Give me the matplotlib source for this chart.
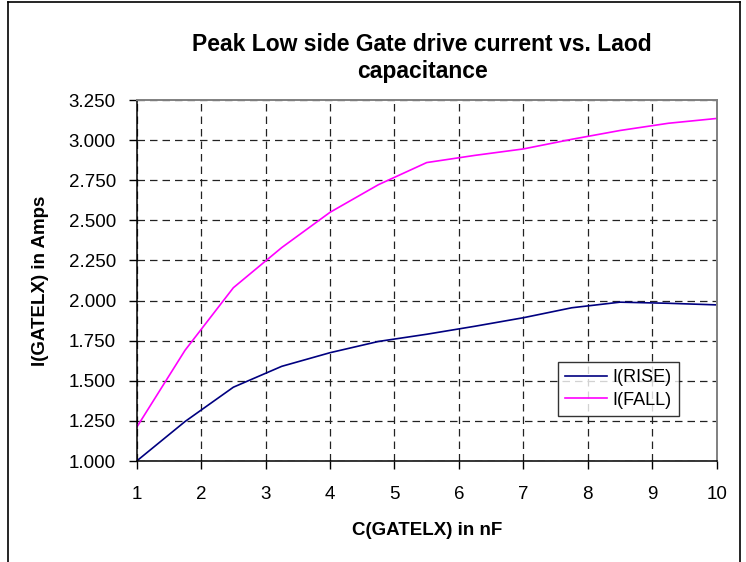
import numpy as np
import matplotlib
matplotlib.use("Agg")
import matplotlib.pyplot as plt
from matplotlib.lines import Line2D

###############################################################################
# Datos
###############################################################################
c_nf = [1, 1.75, 2.5, 3.25, 4, 4.75, 5.5, 6.25, 7, 7.75, 8.5, 9.25, 10]
i_rise = [1.000, 1.246, 1.460, 1.590, 1.675, 1.745, 1.790, 1.840, 1.893,
          1.955, 1.990, 1.983, 1.973]
i_fall = [1.210, 1.690, 2.080, 2.330, 2.550, 2.722, 2.860, 2.905, 2.945,
          3.005, 3.060, 3.105, 3.135]
y_ticks = [1.0, 1.25, 1.5, 1.75, 2.0, 2.25, 2.5, 2.75, 3.0, 3.25]
x_ticks = list(range(1, 11))

plt.rcParams['font.family'] = ['Liberation Sans', 'DejaVu Sans']

###############################################################################
# Figura
###############################################################################
W, H = 746, 562
fig = plt.figure(figsize=(W / 100, H / 100), dpi=100)
ax = fig.add_axes([136.7 / W, 1 - 461 / H, 580 / W, 361 / H])

ax.plot(c_nf, i_rise, color="#000080", lw=1.2, label="I(RISE)")
ax.plot(c_nf, i_fall, color="#FF00FF", lw=1.2, label="I(FALL)")

ax.set_xlim(1, 10)
ax.set_ylim(1.0, 3.25)
ax.set_xticks(x_ticks)
ax.set_yticks(y_ticks)
ax.set_yticklabels(["%.3f" % v for v in y_ticks])
ax.tick_params(axis="both", direction="out", length=6, width=1,
               labelsize=13.5, color="black")
ax.tick_params(axis="y", pad=9)
ax.tick_params(axis="x", pad=12)

ax.grid(True, color="#222222", lw=0.9, linestyle=(0, (6, 4)))
ax.set_axisbelow(True)

for s in ["left", "bottom"]:
    ax.spines[s].set_color("black")
    ax.spines[s].set_linewidth(1.1)
for s in ["top", "right"]:
    ax.spines[s].set_color("#808080")
    ax.spines[s].set_linewidth(1.4)

ax.set_xlabel("C(GATELX) in nF", fontsize=13.5, fontweight="bold", labelpad=14)
ax.set_ylabel("I(GATELX) in Amps", fontsize=13.5, fontweight="bold", labelpad=14)

fig.text(422 / W, 1 - 58 / H, "Peak Low side Gate drive current vs. Laod\ncapacitance",
         ha="center", va="center", fontsize=16.5, fontweight="bold", linespacing=1.25)

leg = ax.legend(loc="lower left", bbox_to_anchor=((558 - 136.7) / 580, (461 - 416) / 361),
                fontsize=13, frameon=True, fancybox=False, handlelength=2.3,
                borderpad=0.4, labelspacing=0.3, handletextpad=0.3, borderaxespad=0)
leg.get_frame().set_edgecolor("black")
leg.get_frame().set_linewidth(1.0)

# marco exterior del grafico
fig.add_artist(Line2D([8 / W, 8 / W], [0, 1 - 2 / H], color="black", lw=1.2))
fig.add_artist(Line2D([8 / W, 740 / W], [1 - 2 / H, 1 - 2 / H], color="black", lw=1.2))
fig.add_artist(Line2D([740 / W, 740 / W], [0, 1 - 2 / H], color="black", lw=1.2))

fig.savefig("out.png", dpi=100)
